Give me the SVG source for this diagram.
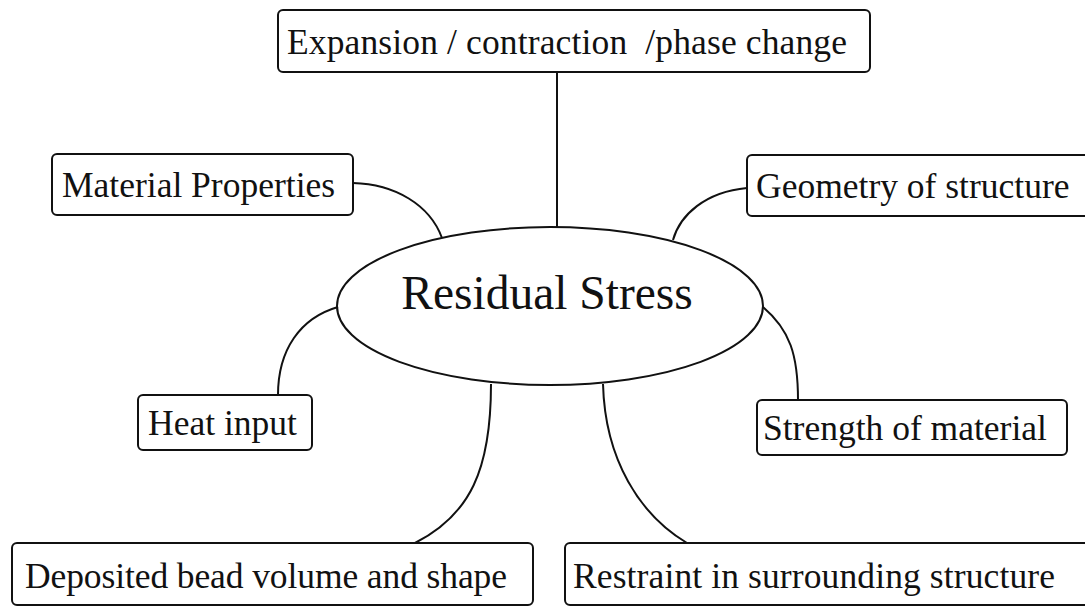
<svg xmlns="http://www.w3.org/2000/svg" width="1085" height="607" viewBox="0 0 1085 607">
<style>
.box{fill:#fff;stroke:#111;stroke-width:2}
.lbl{font-family:"Liberation Serif","Times New Roman",serif;font-size:35.5px;fill:#111}
.conn{fill:none;stroke:#111;stroke-width:2}
</style>
<rect width="1085" height="607" fill="#fff"/>
<g id="connectors">
<path class="conn" d="M557,72 V227"/>
<path class="conn" d="M353,183 C395,184 430,205 442,238"/>
<path class="conn" d="M747,188 C705,192 680,215 673,240"/>
<path class="conn" d="M338,307 C300,318 278,350 278,395"/>
<path class="conn" d="M763,307 C790,330 798,355 798,400"/>
<path class="conn" d="M491,384 C491,470 470,515 415,543"/>
<path class="conn" d="M603,384 C605,460 640,515 687,543"/>
</g>
<g id="residual-stress">
<ellipse cx="550" cy="306" rx="213" ry="79" fill="none" stroke="#111" stroke-width="2"/>
<text x="547" y="309" text-anchor="middle" font-family="Liberation Serif, Times New Roman, serif" font-size="47.5" fill="#111">Residual Stress</text>
</g>
<g id="expansion">
<rect class="box" x="278" y="10" width="592" height="62" rx="5"/>
<text class="lbl" x="287" y="54" xml:space="preserve" textLength="560">Expansion / contraction  /phase change</text>
</g>
<g id="material-properties">
<rect class="box" x="52" y="154" width="301" height="61" rx="5"/>
<text class="lbl" x="62" y="197">Material Properties</text>
</g>
<g id="geometry">
<rect class="box" x="747" y="155" width="350" height="61" rx="5"/>
<text class="lbl" x="756" y="198">Geometry of structure</text>
</g>
<g id="heat-input">
<rect class="box" x="138" y="395" width="174" height="55" rx="5"/>
<text class="lbl" x="148" y="435">Heat input</text>
</g>
<g id="strength">
<rect class="box" x="757" y="400" width="310" height="55" rx="5"/>
<text class="lbl" x="763" y="440">Strength of material</text>
</g>
<g id="deposited">
<rect class="box" x="12" y="543" width="521" height="62" rx="5"/>
<text class="lbl" x="25" y="588" textLength="482">Deposited bead volume and shape</text>
</g>
<g id="restraint">
<rect class="box" x="565" y="543" width="530" height="62" rx="5"/>
<text class="lbl" x="573" y="588" textLength="482">Restraint in surrounding structure</text>
</g>
</svg>
